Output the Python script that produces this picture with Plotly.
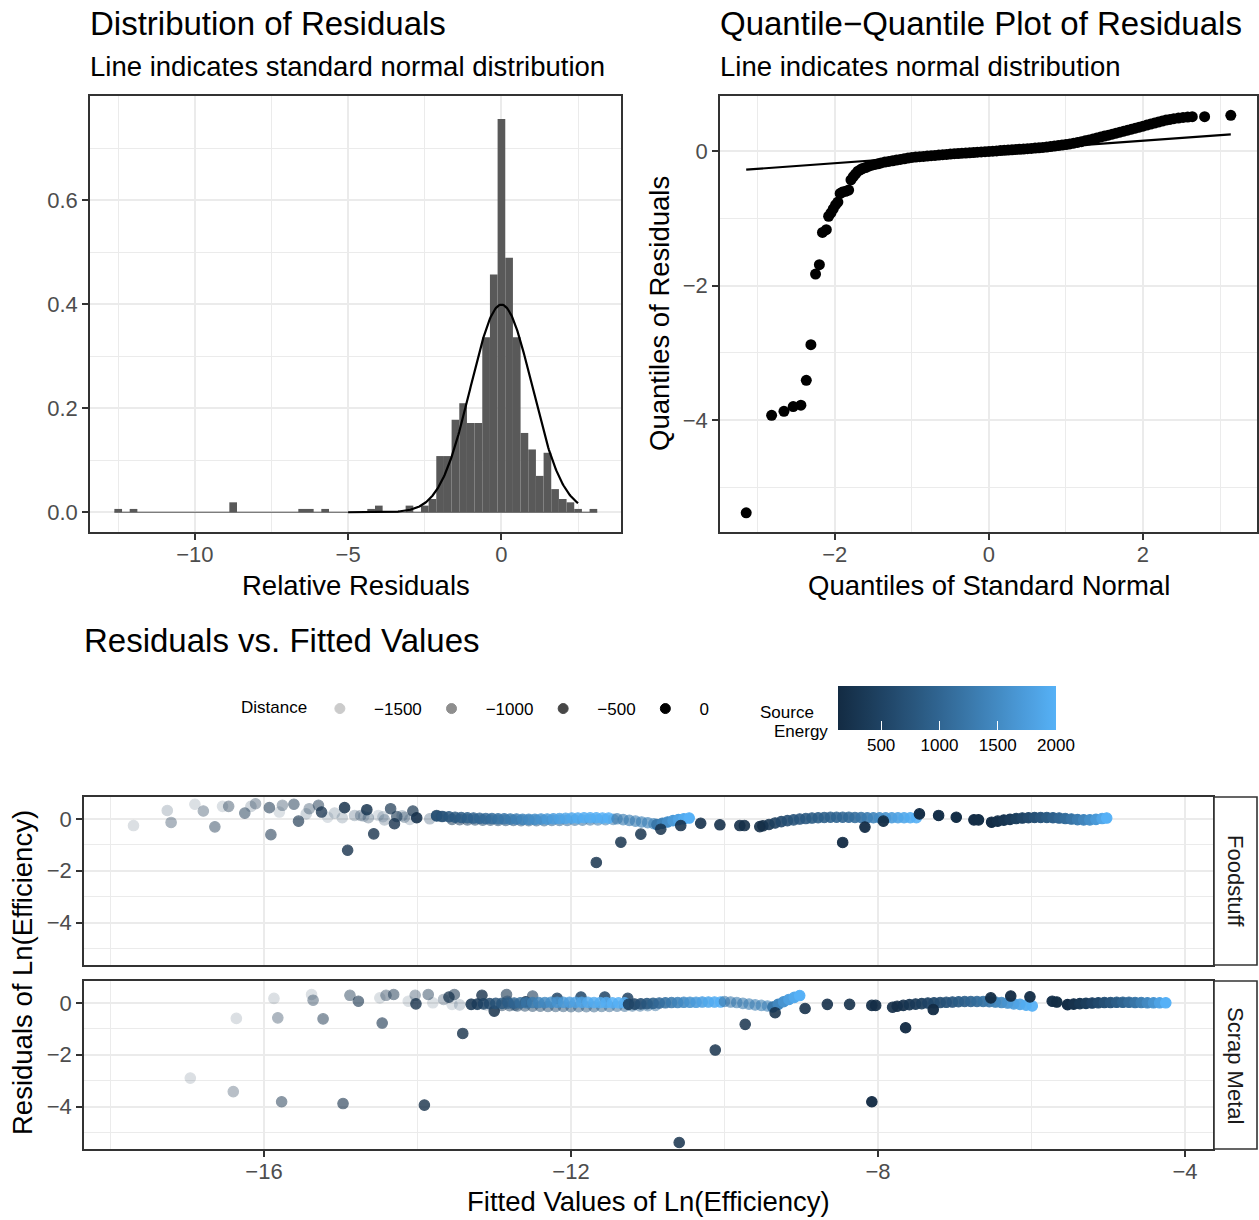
import numpy as np
import plotly.graph_objects as go

FONT = "Liberation Sans, Arial, Helvetica, sans-serif"
W, H = 1259, 1220

# ---------------- Histogram of relative residuals ----------------
hist_bin_width = 0.25
hist_bin_centers = [-12.5, -12.0, -8.75, -6.5, -6.25, -5.75, -4.25, -4.0, -3.0, -2.5,
                    -2.25, -2.0, -1.75, -1.5, -1.25, -1.0, -0.75, -0.5, -0.25, 0.0,
                    0.25, 0.5, 0.75, 1.0, 1.25, 1.5, 1.75, 2.0, 2.25, 2.5, 3.0]
hist_counts = [1, 1, 3, 1, 1, 1, 1, 2, 2, 2,
               4, 17, 17, 28, 33, 27, 27, 53, 72, 119,
               77, 53, 24, 19, 11, 18, 7, 4, 3, 1, 1]
normal_mean, normal_sd = 0.0, 1.0
normal_x_limits = [-5.0, 2.5]

hist_x_ticks = [-10, -5, 0]
hist_x_ticktext = ["\u221210", "\u22125", "0"]
hist_x_minor = [-12.5, -7.5, -2.5, 2.5]
hist_y_ticks = [0.0, 0.2, 0.4, 0.6]
hist_y_ticktext = ["0.0", "0.2", "0.4", "0.6"]
hist_y_minor = [0.1, 0.3, 0.5, 0.7]

# ---------------- QQ plot ----------------
qq_theoretical = [-3.15, -2.82, -2.66, -2.54, -2.44, -2.37, -2.31, -2.25, -2.20, -2.16,
                  -2.11, -2.08, -2.05, -2.02, -1.99, -1.96, -1.93, -1.90, -1.86, -1.82,
                  -1.79, -1.76, -1.73, -1.70, -1.67, -1.64, -1.60, -1.56, -1.52, -1.48,
                  -1.44, -1.40, -1.35, -1.30, -1.25, -1.20, -1.15, -1.10, -1.05, -1.00,
                  -0.95, -0.90, -0.85, -0.80, -0.75, -0.70, -0.65, -0.60, -0.55, -0.50,
                  -0.45, -0.40, -0.35, -0.30, -0.25, -0.20, -0.15, -0.10, -0.05, 0.00,
                  0.05, 0.10, 0.15, 0.20, 0.25, 0.30, 0.35, 0.40, 0.45, 0.50,
                  0.55, 0.60, 0.65, 0.70, 0.75, 0.80, 0.85, 0.90, 0.95, 1.00,
                  1.05, 1.10, 1.15, 1.20, 1.25, 1.30, 1.35, 1.40, 1.45, 1.50,
                  1.55, 1.60, 1.65, 1.70, 1.75, 1.80, 1.85, 1.90, 1.95, 2.00,
                  2.05, 2.10, 2.15, 2.20, 2.25, 2.30, 2.35, 2.40, 2.46, 2.52,
                  2.58, 2.64, 2.80, 3.14]
qq_sample = [-5.38, -3.93, -3.87, -3.80, -3.78, -3.41, -2.88, -1.83, -1.69, -1.21,
             -1.17, -0.97, -0.92, -0.86, -0.80, -0.76, -0.63, -0.61, -0.60, -0.58,
             -0.43, -0.38, -0.34, -0.30, -0.28, -0.26, -0.245, -0.225, -0.21, -0.20,
             -0.19, -0.178, -0.165, -0.155, -0.145, -0.135, -0.125, -0.115, -0.105, -0.095,
             -0.09, -0.085, -0.08, -0.075, -0.07, -0.065, -0.06, -0.055, -0.05, -0.045,
             -0.04, -0.037, -0.033, -0.03, -0.026, -0.022, -0.018, -0.014, -0.01, -0.006,
             -0.002, 0.002, 0.006, 0.01, 0.014, 0.018, 0.022, 0.026, 0.03, 0.034,
             0.038, 0.043, 0.048, 0.053, 0.059, 0.066, 0.073, 0.081, 0.089, 0.097,
             0.106, 0.116, 0.127, 0.139, 0.151, 0.164, 0.178, 0.193, 0.208, 0.223,
             0.236, 0.25, 0.265, 0.28, 0.295, 0.31, 0.325, 0.34, 0.355, 0.37,
             0.385, 0.40, 0.415, 0.43, 0.445, 0.46, 0.47, 0.48, 0.49, 0.50,
             0.505, 0.51, 0.51, 0.53]
qq_line_intercept = -0.014
qq_line_slope = 0.0836

qq_x_ticks = [-2, 0, 2]
qq_x_ticktext = ["\u22122", "0", "2"]
qq_x_minor = [-3, -1, 1, 3]
resid_y_ticks = [-4, -2, 0]
resid_y_ticktext = ["\u22124", "\u22122", "0"]
resid_y_minor = [-5, -3, -1]

# ---------------- Residuals vs fitted: Foodstuff ----------------
food_scatter_x = [-17.70, -17.26, -17.21, -16.90, -16.79, -16.64, -16.54, -16.46, -16.25, -16.17,
                  -16.11, -15.93, -15.91, -15.80, -15.76, -15.61, -15.55, -15.45, -15.41, -15.29,
                  -15.25, -15.17, -15.08, -14.95, -14.98, -14.91, -14.82, -14.74, -14.66, -14.64,
                  -14.57, -14.51, -14.43, -14.35, -14.30, -14.27, -14.17, -14.06, -14.01, -13.84,
                  -13.75, -13.69, -14.70, -14.45, -14.20, -14.10]
food_scatter_y = [-0.26, 0.32, -0.14, 0.56, 0.30, -0.31, 0.48, 0.48, 0.22, 0.48,
                  0.58, 0.43, -0.61, 0.26, 0.52, 0.56, -0.09, 0.19, 0.39, 0.52,
                  0.26, 0.06, 0.22, 0.43, 0.04, -1.21, 0.13, 0.13, 0.35, 0.04,
                  -0.58, 0.13, -0.04, 0.39, -0.19, 0.09, 0.06, 0.30, 0.04, 0.00,
                  0.13, 0.09, 0.10, 0.08, 0.12, -0.02]
food_scatter_energy = [210, 260, 230, 300, 250, 240, 330, 220, 280, 350,
                       240, 260, 230, 380, 270, 250, 240, 420, 300, 260,
                       230, 450, 400, 240, 380, 230, 420, 360, 250, 390,
                       240, 460, 410, 280, 230, 300, 440, 270, 220, 480,
                       300, 330, 470, 500, 520, 480]
food_scatter_distance = [-1510, -1420, -1160, -1510, -1160, -980, -1510, -1070, -890, -1420,
                         -1160, -800, -800, -1510, -1160, -890, -620, -1420, -1160, -890,
                         -440, -1510, -1420, -270, -1420, -360, -1330, -1240, -270, -1240,
                         -360, -1510, -1330, -530, -360, -710, -1240, -530, -180, -1240,
                         -530, -710, -1420, -1420, -1330, -1420]

food_sweep1_x = [-13.75, -13.67, -13.59, -13.51, -13.43, -13.35, -13.27, -13.19, -13.11, -13.03,
                 -12.95, -12.87, -12.79, -12.71, -12.63, -12.55, -12.47, -12.39, -12.31, -12.23,
                 -12.15, -12.07, -11.99, -11.91, -11.83, -11.75, -11.67, -11.59, -11.51]
food_sweep1_y = [0.11, 0.09, 0.08, 0.06, 0.05, 0.04, 0.03, 0.02, 0.01, 0.01,
                 0.00, 0.00, -0.01, -0.01, -0.02, -0.02, -0.02, -0.01, -0.01, 0.00,
                 0.01, 0.02, 0.03, 0.03, 0.04, 0.04, 0.04, 0.03, 0.03]
food_sweep1_energy = [700, 740, 780, 830, 870, 920, 960, 1010, 1060, 1110,
                      1170, 1230, 1290, 1350, 1420, 1490, 1560, 1630, 1700, 1760,
                      1820, 1870, 1910, 1940, 1960, 1975, 1985, 1992, 1998]
food_sweep1_distance = -250

food_sweep2_x = [-13.55, -13.45, -13.35, -13.25, -13.15, -13.05, -12.95, -12.85, -12.75, -12.65,
                 -12.55, -12.45, -12.35, -12.25, -12.15, -12.05, -11.95, -11.85, -11.75, -11.65,
                 -11.55, -11.45]
food_sweep2_y = [-0.02, -0.03, -0.04, -0.04, -0.05, -0.05, -0.06, -0.06, -0.06, -0.07,
                 -0.07, -0.07, -0.07, -0.06, -0.06, -0.06, -0.05, -0.05, -0.04, -0.04,
                 -0.03, -0.02]
food_sweep2_energy = [450, 480, 520, 560, 600, 640, 680, 720, 760, 800,
                      840, 880, 920, 960, 1000, 1040, 1080, 1120, 1160, 1200,
                      1240, 1280]
food_sweep2_distance = -800

food_sweep3_x = [-11.40, -11.32, -11.24, -11.16, -11.08, -11.00, -10.92]
food_sweep3_y = [0.00, -0.03, -0.06, -0.09, -0.12, -0.15, -0.19]
food_sweep3_energy = [1300, 1320, 1340, 1360, 1380, 1400, 1420]
food_sweep3_distance = -620

food_sweep4_x = [-10.88, -10.81, -10.74, -10.67, -10.60, -10.53, -10.46]
food_sweep4_y = [-0.22, -0.17, -0.12, -0.07, -0.03, 0.00, 0.03]
food_sweep4_energy = [1250, 1400, 1550, 1700, 1820, 1920, 2000]
food_sweep4_distance = 0

food_sweep5_x = [-9.50, -9.42, -9.34, -9.26, -9.18, -9.10, -9.02, -8.94, -8.86, -8.78,
                 -8.70, -8.62, -8.54, -8.46, -8.38, -8.30, -8.22, -8.14, -8.06, -7.98,
                 -7.90, -7.82, -7.74, -7.66, -7.58, -7.50]
food_sweep5_y = [-0.27, -0.22, -0.16, -0.11, -0.07, -0.04, -0.01, 0.01, 0.03, 0.04,
                 0.05, 0.06, 0.06, 0.06, 0.06, 0.05, 0.05, 0.04, 0.04, 0.04,
                 0.04, 0.04, 0.04, 0.04, 0.04, 0.04]
food_sweep5_energy = [180, 300, 440, 570, 670, 740, 790, 830, 860, 890,
                      920, 950, 980, 1010, 1050, 1110, 1200, 1300, 1410, 1520,
                      1620, 1720, 1810, 1880, 1940, 1990]
food_sweep5_distance = -180

food_sweep6_x = [-6.52, -6.44, -6.36, -6.28, -6.20, -6.12, -6.04, -5.96, -5.88, -5.80,
                 -5.72, -5.64, -5.56, -5.48, -5.40, -5.32, -5.24, -5.16, -5.08, -5.02]
food_sweep6_y = [-0.13, -0.09, -0.05, -0.02, 0.01, 0.03, 0.04, 0.05, 0.05, 0.05,
                 0.04, 0.03, 0.01, -0.01, -0.03, -0.04, -0.04, -0.02, 0.01, 0.03]
food_sweep6_energy = [160, 220, 290, 370, 450, 530, 610, 690, 770, 850,
                      930, 1010, 1100, 1200, 1310, 1430, 1560, 1700, 1860, 2000]
food_sweep6_distance = 0

food_dark_x = [-11.67, -11.35, -11.09, -10.83, -10.57, -10.31, -10.06, -9.80, -9.74, -9.54,
               -8.46, -8.17, -7.93, -7.46, -7.21, -6.98, -6.75, -6.69]
food_dark_y = [-1.68, -0.90, -0.59, -0.40, -0.26, -0.17, -0.23, -0.26, -0.26, -0.30,
               -0.91, -0.32, -0.09, 0.19, 0.13, 0.06, -0.04, -0.04]
food_dark_energy = [260, 250, 250, 240, 230, 220, 210, 200, 200, 190,
                    150, 160, 170, 180, 190, 170, 160, 170]
food_dark_distance = [-270, -270, -270, -270, -210, -180, -180, -180, -180, -180,
                      -90, -90, -90, 0, 0, 0, 0, 0]

# ---------------- Residuals vs fitted: Scrap Metal ----------------
scrap_scatter_x = [-16.36, -15.87, -15.82, -15.38, -15.36, -15.23, -14.88, -14.77, -14.49, -14.41,
                   -14.31, -14.46, -14.12, -14.03, -14.02, -13.86, -13.80, -13.66, -13.59, -13.52,
                   -13.41, -13.55, -13.45, -13.30, -13.22, -13.10, -13.16, -13.00, -12.84, -12.83,
                   -12.73, -12.59, -12.50, -12.18, -11.87, -11.56, -11.26, -16.96, -16.40, -15.77,
                   -14.97, -13.91]
scrap_scatter_y = [-0.60, 0.17, -0.58, 0.32, 0.10, -0.62, 0.29, 0.06, 0.19, 0.29,
                   0.32, -0.78, 0.06, 0.29, -0.04, 0.32, 0.00, 0.13, 0.22, 0.32,
                   -1.18, -0.06, -0.08, -0.05, -0.06, -0.08, 0.29, -0.32, 0.32, 0.06,
                   -0.09, 0.04, 0.26, 0.17, 0.22, 0.22, 0.17, -2.90, -3.42, -3.81,
                   -3.88, -3.94]
scrap_scatter_energy = [230, 250, 240, 270, 260, 240, 250, 230, 300, 260,
                        250, 230, 330, 270, 220, 260, 380, 340, 250, 270,
                        200, 450, 480, 520, 540, 560, 240, 210, 300, 600,
                        650, 280, 400, 500, 550, 520, 480, 200, 210, 220,
                        200, 190]
scrap_scatter_distance = [-1510, -1510, -1160, -1510, -1070, -890, -980, -710, -1510, -1070,
                          -890, -710, -1510, -1160, -360, -980, -1510, -1240, -440, -800,
                          -360, -1510, -1420, -1330, -1240, -1420, -360, -270, -710, -890,
                          -890, -270, -710, -270, -270, -270, -270, -1510, -1240, -890,
                          -710, -360]

scrap_sweep1_x = [-13.30, -13.22, -13.14, -13.06, -12.98, -12.90, -12.82, -12.74, -12.66, -12.58,
                  -12.50, -12.42, -12.34, -12.26, -12.18, -12.10, -12.02, -11.94, -11.86, -11.78,
                  -11.70, -11.62, -11.54, -11.46, -11.38, -11.30]
scrap_sweep1_y = [-0.06, -0.05, -0.04, -0.03, -0.02, -0.02, -0.01, -0.01, 0.00, 0.00,
                  0.01, 0.01, 0.01, 0.02, 0.02, 0.02, 0.02, 0.02, 0.02, 0.02,
                  0.01, 0.01, 0.01, 0.00, 0.00, 0.00]
scrap_sweep1_energy = [300, 400, 500, 600, 700, 800, 900, 1000, 1100, 1200,
                       1300, 1400, 1480, 1560, 1630, 1700, 1760, 1810, 1860, 1900,
                       1930, 1955, 1975, 1988, 1995, 2000]
scrap_sweep1_distance = -300

scrap_sweep2_x = [-12.90, -12.80, -12.70, -12.60, -12.50, -12.40, -12.30, -12.20, -12.10, -12.00,
                  -11.90, -11.80, -11.70, -11.60, -11.50, -11.40, -11.30, -11.20, -11.10, -11.00,
                  -10.90]
scrap_sweep2_y = [-0.10, -0.11, -0.12, -0.12, -0.13, -0.13, -0.14, -0.14, -0.14, -0.15,
                  -0.15, -0.15, -0.15, -0.14, -0.14, -0.13, -0.13, -0.12, -0.12, -0.11,
                  -0.10]
scrap_sweep2_energy = [400, 440, 480, 520, 560, 600, 640, 680, 720, 760,
                       800, 840, 880, 920, 960, 1000, 1040, 1080, 1120, 1160,
                       1200]
scrap_sweep2_distance = -900

scrap_sweep3_x = [-11.25, -11.17, -11.09, -11.01, -10.93, -10.85, -10.77, -10.69, -10.61, -10.53,
                  -10.45, -10.37, -10.29, -10.21, -10.13, -10.05]
scrap_sweep3_y = [-0.06, -0.05, -0.04, -0.03, -0.02, -0.01, 0.00, 0.01, 0.01, 0.02,
                  0.02, 0.02, 0.03, 0.03, 0.03, 0.03]
scrap_sweep3_energy = [450, 560, 680, 800, 920, 1040, 1160, 1280, 1400, 1510,
                       1620, 1720, 1810, 1890, 1950, 2000]
scrap_sweep3_distance = -200

scrap_sweep4_x = [-10.00, -9.92, -9.84, -9.76, -9.68, -9.60, -9.52, -9.44]
scrap_sweep4_y = [0.05, 0.03, 0.01, -0.02, -0.05, -0.08, -0.10, -0.12]
scrap_sweep4_energy = [1250, 1270, 1290, 1310, 1330, 1350, 1370, 1390]
scrap_sweep4_distance = -700

scrap_sweep5_x = [-9.37, -9.30, -9.23, -9.16, -9.09, -9.02]
scrap_sweep5_y = [-0.16, -0.06, 0.04, 0.13, 0.21, 0.28]
scrap_sweep5_energy = [1250, 1450, 1630, 1780, 1900, 2000]
scrap_sweep5_distance = 0

scrap_sweep6_x = [-7.75, -7.67, -7.59, -7.51, -7.43, -7.35, -7.27, -7.19, -7.11, -7.03,
                  -6.95, -6.87, -6.79, -6.71, -6.63, -6.55, -6.47, -6.39, -6.31, -6.23,
                  -6.15, -6.07, -5.99]
scrap_sweep6_y = [-0.13, -0.10, -0.07, -0.05, -0.03, -0.01, 0.00, 0.01, 0.02, 0.03,
                  0.04, 0.05, 0.05, 0.05, 0.05, 0.04, 0.03, 0.01, -0.01, -0.04,
                  -0.06, -0.09, -0.12]
scrap_sweep6_energy = [160, 230, 300, 370, 440, 510, 580, 650, 720, 790,
                       860, 930, 1000, 1080, 1170, 1270, 1380, 1500, 1620, 1740,
                       1850, 1940, 2000]
scrap_sweep6_distance = -120

scrap_sweep7_x = [-5.53, -5.45, -5.37, -5.29, -5.21, -5.13, -5.05, -4.97, -4.89, -4.81,
                  -4.73, -4.65, -4.57, -4.49, -4.41, -4.33, -4.25]
scrap_sweep7_y = [-0.07, -0.05, -0.03, -0.02, -0.01, 0.00, 0.01, 0.01, 0.02, 0.02,
                  0.02, 0.01, 0.01, 0.00, 0.00, 0.00, 0.00]
scrap_sweep7_energy = [160, 240, 330, 420, 510, 600, 690, 780, 880, 980,
                       1090, 1210, 1340, 1480, 1640, 1820, 2000]
scrap_sweep7_distance = 0

scrap_dark_x = [-10.59, -10.12, -9.73, -9.34, -8.95, -8.66, -8.37, -8.08, -8.03, -8.08,
                -7.81, -7.64, -7.28, -6.53, -6.27, -6.02, -5.73, -5.67]
scrap_dark_y = [-5.38, -1.82, -0.83, -0.38, -0.22, -0.06, -0.06, -0.10, -0.10, -3.81,
                -0.17, -0.96, -0.26, 0.19, 0.26, 0.23, 0.06, 0.03]
scrap_dark_energy = [230, 240, 250, 240, 220, 210, 200, 190, 180, 150,
                     200, 150, 160, 170, 180, 190, 200, 170]
scrap_dark_distance = [-270, -270, -270, -210, -180, -180, -180, -120, -120, -60,
                       -150, -60, -60, -60, -60, -60, -30, -30]

facet_labels = ["Foodstuff", "Scrap Metal"]
fit_x_ticks = [-16, -12, -8, -4]
fit_x_ticktext = ["\u221216", "\u221212", "\u22128", "\u22124"]
fit_x_minor = [-18, -14, -10, -6]

source_energy_limits = [130, 2000]
energy_breaks = [500, 1000, 1500, 2000]
distance_limits = [-1600, 0]
distance_breaks = [-1500, -1000, -500, 0]
alpha_range = [0.1, 1.0]

# ---------------- helpers ----------------
def hex_rgb(h):
    return [int(h[i:i + 2], 16) / 255 for i in (1, 3, 5)]

def to_lab(h):
    rgb = [c / 12.92 if c <= 0.04045 else ((c + 0.055) / 1.055) ** 2.4 for c in hex_rgb(h)]
    M = [[0.4124, 0.3576, 0.1805], [0.2126, 0.7152, 0.0722], [0.0193, 0.1192, 0.9505]]
    X, Y, Z = [sum(M[i][j] * rgb[j] for j in range(3)) for i in range(3)]
    wn = [0.95047, 1.0, 1.08883]
    d = 6 / 29
    f = lambda t: t ** (1 / 3) if t > d ** 3 else t / (3 * d * d) + 4 / 29
    fx, fy, fz = f(X / wn[0]), f(Y / wn[1]), f(Z / wn[2])
    return [116 * fy - 16, 500 * (fx - fy), 200 * (fy - fz)]

def from_lab(lab):
    L, a, b = lab
    d = 6 / 29
    fy = (L + 16) / 116
    fx = fy + a / 500
    fz = fy - b / 200
    finv = lambda t: t ** 3 if t > d else 3 * d * d * (t - 4 / 29)
    X, Y, Z = 0.95047 * finv(fx), finv(fy), 1.08883 * finv(fz)
    Mi = [[3.2406, -1.5372, -0.4986], [-0.9689, 1.8758, 0.0415], [0.0557, -0.2040, 1.0570]]
    lin = [sum(Mi[i][j] * v for j, v in enumerate((X, Y, Z))) for i in range(3)]
    out = []
    for c in lin:
        c = min(max(c, 0), 1)
        c = 12.92 * c if c <= 0.0031308 else 1.055 * c ** (1 / 2.4) - 0.055
        out.append(int(round(min(max(c, 0), 1) * 255)))
    return "rgb(%d,%d,%d)" % tuple(out)

lab_lo, lab_hi = to_lab("#132B43"), to_lab("#56B1F7")
colorscale = [[t, from_lab([lab_lo[k] + t * (lab_hi[k] - lab_lo[k]) for k in range(3)])]
              for t in np.linspace(0, 1, 21)]

def alpha_of(d):
    d = np.asarray(d, dtype=float)
    return alpha_range[0] + (alpha_range[1] - alpha_range[0]) * (d - distance_limits[0]) / (
        distance_limits[1] - distance_limits[0])

def combine(groups):
    xs, ys, es, ds = [], [], [], []
    for gx, gy, ge, gd in groups:
        assert len(gx) == len(gy) == len(ge), (len(gx), len(gy), len(ge))
        if np.isscalar(gd):
            gd = [gd] * len(gx)
        assert len(gd) == len(gx)
        xs += list(gx); ys += list(gy); es += list(ge); ds += list(gd)
    return xs, ys, es, ds

food = combine([
    (food_scatter_x, food_scatter_y, food_scatter_energy, food_scatter_distance),
    (food_sweep2_x, food_sweep2_y, food_sweep2_energy, food_sweep2_distance),
    (food_sweep1_x, food_sweep1_y, food_sweep1_energy, food_sweep1_distance),
    (food_sweep3_x, food_sweep3_y, food_sweep3_energy, food_sweep3_distance),
    (food_sweep4_x, food_sweep4_y, food_sweep4_energy, food_sweep4_distance),
    (food_sweep5_x, food_sweep5_y, food_sweep5_energy, food_sweep5_distance),
    (food_sweep6_x, food_sweep6_y, food_sweep6_energy, food_sweep6_distance),
    (food_dark_x, food_dark_y, food_dark_energy, food_dark_distance),
])
scrap = combine([
    (scrap_scatter_x, scrap_scatter_y, scrap_scatter_energy, scrap_scatter_distance),
    (scrap_sweep2_x, scrap_sweep2_y, scrap_sweep2_energy, scrap_sweep2_distance),
    (scrap_sweep1_x, scrap_sweep1_y, scrap_sweep1_energy, scrap_sweep1_distance),
    (scrap_sweep3_x, scrap_sweep3_y, scrap_sweep3_energy, scrap_sweep3_distance),
    (scrap_sweep4_x, scrap_sweep4_y, scrap_sweep4_energy, scrap_sweep4_distance),
    (scrap_sweep5_x, scrap_sweep5_y, scrap_sweep5_energy, scrap_sweep5_distance),
    (scrap_sweep6_x, scrap_sweep6_y, scrap_sweep6_energy, scrap_sweep6_distance),
    (scrap_sweep7_x, scrap_sweep7_y, scrap_sweep7_energy, scrap_sweep7_distance),
    (scrap_dark_x, scrap_dark_y, scrap_dark_energy, scrap_dark_distance),
])
assert len(qq_theoretical) == len(qq_sample)
assert len(hist_bin_centers) == len(hist_counts)

def px(x):
    return x / W

def py(y):
    return 1 - y / H

fig = go.Figure()

# Histogram
n_obs = sum(hist_counts)
density = [c / (n_obs * hist_bin_width) for c in hist_counts]
fig.add_trace(go.Bar(x=hist_bin_centers, y=density, width=hist_bin_width,
                     marker=dict(color="#595959", line=dict(width=0)),
                     xaxis="x", yaxis="y", showlegend=False, hoverinfo="skip"))
edge_lo = min(hist_bin_centers) - hist_bin_width / 2
edge_hi = max(hist_bin_centers) + hist_bin_width / 2
fig.add_trace(go.Scatter(x=[edge_lo, edge_hi], y=[0, 0], mode="lines",
                         line=dict(color="#595959", width=1.2),
                         xaxis="x", yaxis="y", showlegend=False, hoverinfo="skip"))
nx = np.linspace(normal_x_limits[0], normal_x_limits[1], 301)
ny = np.exp(-0.5 * ((nx - normal_mean) / normal_sd) ** 2) / (normal_sd * np.sqrt(2 * np.pi))
fig.add_trace(go.Scatter(x=nx, y=ny, mode="lines", line=dict(color="black", width=2.2),
                         xaxis="x", yaxis="y", showlegend=False, hoverinfo="skip"))

# QQ
fig.add_trace(go.Scatter(x=qq_theoretical, y=qq_sample, mode="markers",
                         marker=dict(color="black", size=11, line=dict(width=0)),
                         xaxis="x2", yaxis="y2", showlegend=False, hoverinfo="skip"))
qx = np.array([min(qq_theoretical), max(qq_theoretical)])
fig.add_trace(go.Scatter(x=qx, y=qq_line_intercept + qq_line_slope * qx, mode="lines",
                         line=dict(color="black", width=2.2),
                         xaxis="x2", yaxis="y2", showlegend=False, hoverinfo="skip"))

# Residuals vs fitted
CB_LEFT, CB_WIDTH, CB_TOP, CB_THICK = 838, 218, 686, 44
colorbar = dict(orientation="h", x=px(CB_LEFT + CB_WIDTH / 2), xanchor="center", y=py(CB_TOP), yanchor="top",
                len=CB_WIDTH, lenmode="pixels", thickness=CB_THICK, thicknessmode="pixels",
                outlinewidth=0, xpad=0, ypad=0,
                tickmode="array", tickvals=energy_breaks, ticktext=[str(v) for v in energy_breaks],
                ticks="inside", ticklen=9, tickwidth=1.2, tickcolor="white",
                tickfont=dict(family=FONT, size=17, color="black"))
for i, (data, xa, ya) in enumerate([(food, "x3", "y3"), (scrap, "x4", "y4")]):
    xs, ys, es, ds = data
    fig.add_trace(go.Scatter(
        x=xs, y=ys, mode="markers", xaxis=xa, yaxis=ya, showlegend=False, hoverinfo="skip",
        marker=dict(size=10.5, color=es, colorscale=colorscale,
                    cmin=source_energy_limits[0], cmax=source_energy_limits[1],
                    opacity=alpha_of(ds).tolist(),
                    line=dict(width=1.1, color=es, colorscale=colorscale,
                              cmin=source_energy_limits[0], cmax=source_energy_limits[1]),
                    showscale=(i == 0), colorbar=colorbar if i == 0 else None)))

# Distance legend entries (padding with no-break spaces mimics ggplot key spacing)
NB = "\u00a0"
for d in distance_breaks:
    label = ("\u2212" + str(abs(d))) if d < 0 else str(d)
    fig.add_trace(go.Scatter(x=[None], y=[None], mode="markers", name=NB * 3 + label + NB,
                             xaxis="x3", yaxis="y3", showlegend=True,
                             marker=dict(color="black", size=10,
                                         opacity=float(alpha_of([d])[0]),
                                         line=dict(color="black", width=1))))

def axis(domain, rng, tickvals, ticktext, minor_vals, **kw):
    a = dict(domain=domain, range=rng, showline=True, linecolor="#333333", linewidth=1.6,
             mirror=True, showgrid=True, gridcolor="#EBEBEB", gridwidth=2, zeroline=False,
             ticks="outside", ticklen=6, tickwidth=1.5, tickcolor="#333333",
             tickfont=dict(family=FONT, size=22, color="#4D4D4D"),
             tickmode="array", tickvals=tickvals, ticktext=ticktext,
             minor=dict(tickmode="array", tickvals=minor_vals, showgrid=True,
                        gridcolor="#EBEBEB", gridwidth=1, ticks=""),
             fixedrange=True)
    a.update(kw)
    return a

top_y_dom = [py(532), py(96)]
fit_x_range = [-18.345, -3.635]
resid_range = [-5.63, 0.84]
layout = dict(
    width=W, height=H, autosize=False, margin=dict(l=0, r=0, t=0, b=0),
    paper_bgcolor="white", plot_bgcolor="white",
    font=dict(family=FONT, color="black"),
    xaxis=axis([px(90), px(621)], [-13.42, 3.9], hist_x_ticks, hist_x_ticktext, hist_x_minor,
               anchor="y", ticklabelstandoff=-4),
    yaxis=axis(top_y_dom, [-0.038, 0.8], hist_y_ticks, hist_y_ticktext, hist_y_minor, anchor="x"),
    xaxis2=axis([px(720), px(1257)], [-3.49, 3.48], qq_x_ticks, qq_x_ticktext, qq_x_minor,
                anchor="y2", ticklabelstandoff=-4),
    yaxis2=axis(top_y_dom, [-5.665, 0.818], resid_y_ticks, resid_y_ticktext, resid_y_minor, anchor="x2"),
    xaxis3=axis([px(84), px(1213)], fit_x_range, fit_x_ticks, fit_x_ticktext, fit_x_minor,
                anchor="y3", matches="x4", showticklabels=False, ticks=""),
    yaxis3=axis([py(965), py(797)], resid_range, resid_y_ticks, resid_y_ticktext, resid_y_minor, anchor="x3"),
    xaxis4=axis([px(84), px(1213)], fit_x_range, fit_x_ticks, fit_x_ticktext, fit_x_minor,
                anchor="y4", ticklabelstandoff=-4),
    yaxis4=axis([py(1149), py(981)], resid_range, resid_y_ticks, resid_y_ticktext, resid_y_minor, anchor="x4"),
    showlegend=True,
    legend=dict(orientation="h", x=px(239), xanchor="left", y=py(709), yanchor="middle",
                title=dict(text="Distance" + NB, side="left",
                           font=dict(family=FONT, size=17, color="black")),
                font=dict(family=FONT, size=17, color="black"),
                bgcolor="rgba(0,0,0,0)",
                itemsizing="trace", traceorder="normal", tracegroupgap=0),
)

ann = []
def text(t, x, y, size, xanchor="left", angle=0, color="black"):
    ann.append(dict(text=t, x=px(x), y=py(y), xref="paper", yref="paper", showarrow=False,
                    xanchor=xanchor, yanchor="middle", textangle=angle,
                    font=dict(family=FONT, size=size, color=color)))

text("Distribution of Residuals", 88, 24, 33)
text("Line indicates standard normal distribution", 88, 67, 27.5)
text("Quantile\u2212Quantile Plot of Residuals", 718, 24, 33)
text("Line indicates normal distribution", 718, 67, 27.5)
text("Residuals vs. Fitted Values", 82, 640, 33)
text("Relative Residuals", 355.5, 585, 27.5, xanchor="center")
text("Quantiles of Standard Normal", 988.5, 585, 27.5, xanchor="center")
text("Quantiles of Residuals", 659, 314, 27.5, xanchor="center", angle=-90)
text("Fitted Values of Ln(Efficiency)", 648.5, 1201, 27.5, xanchor="center")
text("Residuals of Ln(Efficiency)", 22, 973, 27.5, xanchor="center", angle=-90)
text(facet_labels[0], 1236, 881, 22, xanchor="center", angle=90, color="#1A1A1A")
text(facet_labels[1], 1236, 1065, 22, xanchor="center", angle=90, color="#1A1A1A")
text("Source", 816, 712, 17, xanchor="right")
text("Energy", 830, 731, 17, xanchor="right")
layout["annotations"] = ann

shapes = []
for (y0, y1) in [(797, 965), (981, 1149)]:
    shapes.append(dict(type="rect", xref="paper", yref="paper", x0=px(1214), x1=px(1257),
                       y0=py(y1), y1=py(y0), line=dict(color="#333333", width=1.6),
                       fillcolor="white", layer="above"))
# white tick marks along the top edge of the colour bar (as ggplot draws them on both edges)
for v in energy_breaks:
    bx = CB_LEFT + (v - source_energy_limits[0]) / (source_energy_limits[1] - source_energy_limits[0]) * CB_WIDTH
    shapes.append(dict(type="line", xref="paper", yref="paper", x0=px(bx), x1=px(bx),
                       y0=py(CB_TOP), y1=py(CB_TOP + 9), line=dict(color="white", width=1.2),
                       layer="above"))
layout["shapes"] = shapes

fig.update_layout(**layout)
fig.write_html("out.html")
